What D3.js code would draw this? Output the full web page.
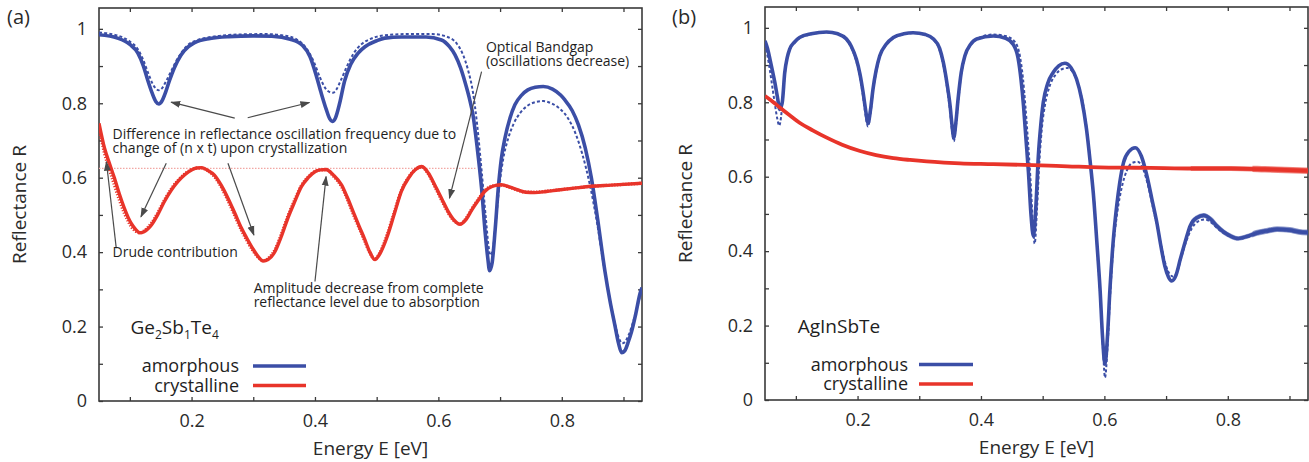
<!DOCTYPE html>
<html>
<head>
<meta charset="utf-8">
<script src="https://cdn.jsdelivr.net/npm/d3@7"></script>
<style>
  body { margin: 0; background: #fff; }
  svg { font-family: "Open Sans", sans-serif; }
</style>
</head>
<body>
<div id="container"></div>
<script>
/* DATA */
// panel (a) Ge2Sb1Te4 : [energy eV, reflectance]
const aAmorph = [[0.05,0.984],[0.08,0.975],[0.10,0.958],[0.113,0.935],[0.122,0.900],[0.129,0.862],[0.136,0.828],[0.142,0.805],[0.147,0.798],[0.152,0.806],[0.158,0.830],[0.164,0.860],[0.172,0.895],[0.183,0.930],[0.195,0.952],[0.205,0.963],[0.23,0.974],[0.26,0.979],[0.30,0.981],[0.33,0.980],[0.36,0.972],[0.38,0.955],[0.392,0.925],[0.402,0.875],[0.41,0.828],[0.418,0.785],[0.424,0.758],[0.428,0.751],[0.433,0.760],[0.44,0.800],[0.448,0.860],[0.458,0.905],[0.47,0.935],[0.481,0.952],[0.50,0.968],[0.513,0.975],[0.54,0.978],[0.58,0.978],[0.605,0.970],[0.618,0.952],[0.627,0.930],[0.636,0.895],[0.643,0.858],[0.650,0.815],[0.656,0.769],[0.663,0.680],[0.670,0.572],[0.676,0.450],[0.680,0.385],[0.683,0.350],[0.687,0.370],[0.692,0.460],[0.697,0.570],[0.702,0.650],[0.708,0.707],[0.716,0.760],[0.724,0.796],[0.735,0.822],[0.745,0.836],[0.757,0.843],[0.770,0.845],[0.785,0.838],[0.798,0.822],[0.805,0.809],[0.817,0.780],[0.827,0.742],[0.838,0.680],[0.848,0.599],[0.858,0.490],[0.870,0.348],[0.878,0.270],[0.886,0.204],[0.892,0.155],[0.897,0.130],[0.902,0.135],[0.908,0.160],[0.913,0.186],[0.920,0.235],[0.927,0.290],[0.93,0.305]]
const aAmorphFit = [[0.05,0.990],[0.08,0.982],[0.10,0.966],[0.113,0.945],[0.122,0.915],[0.130,0.880],[0.137,0.852],[0.143,0.838],[0.147,0.835],[0.152,0.840],[0.158,0.857],[0.165,0.880],[0.173,0.907],[0.183,0.935],[0.195,0.958],[0.21,0.970],[0.24,0.980],[0.28,0.985],[0.32,0.986],[0.35,0.982],[0.37,0.972],[0.385,0.950],[0.398,0.912],[0.408,0.870],[0.417,0.840],[0.424,0.830],[0.429,0.828],[0.434,0.835],[0.442,0.862],[0.452,0.900],[0.463,0.935],[0.475,0.958],[0.49,0.973],[0.51,0.982],[0.55,0.986],[0.59,0.986],[0.615,0.978],[0.63,0.960],[0.64,0.930],[0.648,0.890],[0.656,0.830],[0.663,0.740],[0.670,0.620],[0.677,0.490],[0.681,0.420],[0.684,0.392],[0.688,0.405],[0.693,0.480],[0.699,0.580],[0.705,0.650],[0.713,0.705],[0.722,0.745],[0.733,0.775],[0.745,0.794],[0.757,0.803],[0.770,0.806],[0.783,0.800],[0.797,0.785],[0.810,0.760],[0.822,0.720],[0.833,0.665],[0.845,0.585],[0.857,0.480],[0.868,0.365],[0.877,0.280],[0.885,0.215],[0.892,0.172],[0.898,0.155],[0.903,0.160],[0.909,0.180],[0.916,0.215],[0.923,0.258],[0.93,0.300]]
const aCryst = [[0.05,0.746],[0.059,0.679],[0.067,0.638],[0.075,0.599],[0.083,0.556],[0.091,0.518],[0.097,0.494],[0.102,0.478],[0.109,0.462],[0.116,0.452],[0.123,0.455],[0.129,0.462],[0.135,0.473],[0.145,0.500],[0.156,0.536],[0.167,0.566],[0.178,0.590],[0.189,0.608],[0.200,0.621],[0.208,0.626],[0.216,0.627],[0.226,0.620],[0.237,0.607],[0.248,0.580],[0.259,0.545],[0.270,0.505],[0.281,0.464],[0.290,0.436],[0.299,0.410],[0.308,0.388],[0.316,0.376],[0.324,0.380],[0.335,0.401],[0.345,0.440],[0.356,0.491],[0.367,0.535],[0.378,0.576],[0.389,0.600],[0.400,0.616],[0.409,0.621],[0.418,0.622],[0.430,0.607],[0.443,0.581],[0.453,0.545],[0.464,0.500],[0.472,0.468],[0.480,0.437],[0.489,0.400],[0.497,0.380],[0.505,0.395],[0.518,0.446],[0.529,0.505],[0.540,0.563],[0.552,0.600],[0.563,0.622],[0.573,0.630],[0.584,0.612],[0.594,0.581],[0.605,0.545],[0.616,0.509],[0.626,0.485],[0.635,0.475],[0.645,0.488],[0.654,0.513],[0.665,0.540],[0.675,0.563],[0.688,0.577],[0.702,0.581],[0.716,0.575],[0.729,0.567],[0.742,0.561],[0.756,0.560],[0.775,0.563],[0.794,0.567],[0.82,0.572],[0.848,0.577],[0.88,0.580],[0.93,0.585]]
const aCrystFit = [[0.05,0.738],[0.059,0.665],[0.067,0.622],[0.075,0.580],[0.083,0.540],[0.091,0.505],[0.097,0.484],[0.102,0.469],[0.109,0.457],[0.116,0.452],[0.123,0.457],[0.129,0.466],[0.135,0.478],[0.145,0.505],[0.156,0.540],[0.167,0.570],[0.178,0.593],[0.189,0.610],[0.200,0.622],[0.208,0.626],[0.216,0.626],[0.226,0.619],[0.237,0.603],[0.248,0.575],[0.259,0.538],[0.270,0.498],[0.281,0.458],[0.290,0.430],[0.299,0.405],[0.308,0.386],[0.316,0.377],[0.324,0.383],[0.335,0.406],[0.345,0.446],[0.356,0.497],[0.367,0.540],[0.378,0.579],[0.389,0.602],[0.400,0.617],[0.409,0.621],[0.418,0.621],[0.430,0.604],[0.443,0.576],[0.453,0.540],[0.464,0.494],[0.472,0.463],[0.480,0.432],[0.489,0.398],[0.497,0.381],[0.505,0.398],[0.518,0.452],[0.529,0.510],[0.540,0.566],[0.552,0.602],[0.563,0.623],[0.573,0.629],[0.584,0.609],[0.594,0.577],[0.605,0.540],[0.616,0.505],[0.626,0.483],[0.635,0.476],[0.645,0.491],[0.654,0.516],[0.665,0.543],[0.675,0.565],[0.688,0.578],[0.702,0.580],[0.716,0.574],[0.729,0.566],[0.742,0.561],[0.756,0.561],[0.775,0.564],[0.794,0.567],[0.82,0.572],[0.848,0.577],[0.88,0.580],[0.93,0.585]]
const aLevel = [[0.05,0.625],[0.66,0.625]]   // complete reflectance level

// panel (b) AgInSbTe
const bAmorph = [[0.05,0.965],[0.054,0.945],[0.058,0.916],[0.062,0.885],[0.066,0.853],[0.070,0.815],[0.074,0.781],[0.078,0.800],[0.082,0.880],[0.086,0.920],[0.090,0.943],[0.098,0.962],[0.106,0.974],[0.125,0.984],[0.150,0.989],[0.168,0.984],[0.182,0.970],[0.190,0.950],[0.198,0.916],[0.204,0.875],[0.209,0.826],[0.213,0.780],[0.217,0.744],[0.221,0.780],[0.225,0.835],[0.230,0.885],[0.236,0.925],[0.246,0.955],[0.258,0.974],[0.275,0.984],[0.29,0.987],[0.31,0.982],[0.323,0.970],[0.333,0.945],[0.339,0.907],[0.345,0.850],[0.350,0.790],[0.353,0.740],[0.356,0.705],[0.359,0.740],[0.363,0.810],[0.368,0.880],[0.374,0.925],[0.383,0.955],[0.393,0.970],[0.42,0.978],[0.44,0.972],[0.452,0.956],[0.46,0.920],[0.465,0.860],[0.469,0.790],[0.473,0.700],[0.477,0.611],[0.481,0.500],[0.485,0.440],[0.489,0.520],[0.493,0.656],[0.497,0.740],[0.501,0.800],[0.508,0.850],[0.517,0.880],[0.526,0.898],[0.536,0.905],[0.546,0.893],[0.555,0.862],[0.563,0.810],[0.571,0.728],[0.577,0.640],[0.582,0.557],[0.588,0.420],[0.593,0.297],[0.597,0.170],[0.601,0.096],[0.605,0.170],[0.609,0.297],[0.614,0.420],[0.620,0.522],[0.625,0.585],[0.631,0.638],[0.640,0.668],[0.650,0.678],[0.660,0.655],[0.669,0.602],[0.677,0.540],[0.685,0.477],[0.692,0.410],[0.698,0.360],[0.704,0.330],[0.709,0.320],[0.716,0.335],[0.723,0.378],[0.731,0.425],[0.739,0.468],[0.750,0.490],[0.761,0.496],[0.772,0.486],[0.782,0.468],[0.793,0.452],[0.804,0.441],[0.817,0.434],[0.832,0.440],[0.847,0.449],[0.865,0.455],[0.88,0.459],[0.90,0.457],[0.915,0.452],[0.93,0.450]]
const bAmorphFit = [[0.05,0.955],[0.054,0.925],[0.058,0.885],[0.062,0.840],[0.066,0.795],[0.070,0.755],[0.073,0.737],[0.076,0.760],[0.080,0.840],[0.084,0.900],[0.089,0.937],[0.096,0.958],[0.106,0.972],[0.125,0.983],[0.150,0.988],[0.168,0.983],[0.182,0.968],[0.190,0.946],[0.198,0.910],[0.204,0.868],[0.209,0.815],[0.213,0.765],[0.217,0.735],[0.221,0.770],[0.225,0.830],[0.230,0.880],[0.236,0.922],[0.246,0.953],[0.258,0.972],[0.275,0.983],[0.29,0.986],[0.31,0.981],[0.323,0.968],[0.333,0.940],[0.339,0.900],[0.345,0.840],[0.350,0.775],[0.353,0.725],[0.356,0.695],[0.359,0.730],[0.363,0.800],[0.368,0.875],[0.374,0.922],[0.383,0.953],[0.393,0.970],[0.42,0.982],[0.44,0.978],[0.455,0.962],[0.463,0.925],[0.468,0.865],[0.472,0.790],[0.476,0.700],[0.480,0.600],[0.484,0.480],[0.487,0.420],[0.491,0.520],[0.495,0.650],[0.499,0.735],[0.504,0.795],[0.511,0.842],[0.520,0.872],[0.530,0.888],[0.540,0.892],[0.550,0.878],[0.558,0.845],[0.566,0.790],[0.573,0.705],[0.579,0.610],[0.584,0.520],[0.589,0.390],[0.594,0.260],[0.598,0.130],[0.601,0.060],[0.605,0.140],[0.609,0.270],[0.614,0.400],[0.621,0.505],[0.628,0.570],[0.636,0.615],[0.645,0.637],[0.654,0.640],[0.663,0.620],[0.671,0.575],[0.679,0.515],[0.687,0.455],[0.694,0.400],[0.700,0.360],[0.706,0.338],[0.711,0.332],[0.718,0.345],[0.725,0.385],[0.733,0.428],[0.742,0.462],[0.752,0.480],[0.763,0.485],[0.774,0.476],[0.784,0.460],[0.795,0.447],[0.806,0.438],[0.818,0.433],[0.832,0.438],[0.847,0.447],[0.865,0.453],[0.88,0.457],[0.90,0.455],[0.915,0.451],[0.93,0.449]]
const bCryst = [[0.05,0.817],[0.06,0.805],[0.074,0.786],[0.09,0.765],[0.106,0.745],[0.128,0.724],[0.15,0.705],[0.175,0.686],[0.204,0.669],[0.23,0.658],[0.258,0.650],[0.285,0.645],[0.312,0.641],[0.34,0.638],[0.366,0.636],[0.42,0.634],[0.485,0.631],[0.54,0.628],[0.592,0.625],[0.65,0.624],[0.697,0.623],[0.75,0.622],[0.805,0.622],[0.86,0.620],[0.93,0.616]]

// ticks
const xTicks = [0.1,0.2,0.3,0.4,0.5,0.6,0.7,0.8,0.9]
const xLabels = ["0.2","0.4","0.6","0.8"]
const yTicks = [0,0.1,0.2,0.3,0.4,0.5,0.6,0.7,0.8,0.9,1]
const yLabels = ["0","0.2","0.4","0.6","0.8","1"]

// annotations panel (a): [text lines, E, R]
const aNotes = [
  [["Difference in reflectance oscillation frequency due to", "change of (n x t) upon crystallization"], 0.072, 0.703],
  [["Optical Bandgap", "(oscillations decrease)"], 0.677, 0.937],
  [["Drude contribution"], 0.072, 0.388],
  [["Amplitude decrease from complete", "reflectance level due to absorption"], 0.3006, 0.289]
]
// arrows: [fromE, fromR, toE, toR]
const aArrows = [
  [0.270,0.760, 0.167,0.803],
  [0.291,0.761, 0.391,0.802],
  [0.159,0.639, 0.118,0.495],
  [0.259,0.639, 0.301,0.446],
  [0.078,0.410, 0.062,0.643],
  [0.400,0.321, 0.418,0.603],
  [0.670,0.885, 0.618,0.545]
]

/* CONSTANTS */
const width = 1309, height = 462
const blue = "#3b4ea6", red = "#e8342a", axisColor = "#3a3a3a"
const pw = 543, ph = 393

const svg = d3.select("#container").append("svg")
  .attr("width", width).attr("height", height)

const defs = svg.append("defs")
defs.append("marker")
  .attr("id", "head")
  .attr("viewBox", "0 0 10 10")
  .attr("refX", 9).attr("refY", 5)
  .attr("markerWidth", 10).attr("markerHeight", 10)
  .attr("markerUnits", "userSpaceOnUse")
  .attr("orient", "auto")
  .append("path")
  .attr("d", "M0,1.5 L10,5 L0,8.5 Z")
  .attr("fill", "#4a4a4a")

function drawPanel(left, top, letter, letterX) {
  const g = svg.append("g").attr("transform", `translate(${left},${top})`)

  const x = d3.scaleLinear().domain([0.05, 0.93]).range([0, pw])
  const y = d3.scaleLinear().domain([0, 1.056]).range([ph, 0])

  // axes
  const fmt = d => d3.format("~g")(d)
  g.append("g").attr("transform", `translate(0,${ph})`)
    .call(d3.axisBottom(x).tickValues(xTicks).tickSize(-4).tickPadding(13)
      .tickFormat(d => xLabels.includes(fmt(d)) ? fmt(d) : ""))
  g.append("g")
    .call(d3.axisLeft(y).tickValues(yTicks).tickSize(-4).tickPadding(12)
      .tickFormat(d => yLabels.includes(fmt(d)) ? fmt(d) : ""))
  g.append("g").call(d3.axisTop(x).tickValues(xTicks).tickSize(-4).tickFormat(""))
  g.append("g").attr("transform", `translate(${pw},0)`)
    .call(d3.axisRight(y).tickValues(yTicks).tickSize(-4).tickFormat(""))
  g.selectAll(".domain").remove()
  g.selectAll(".tick line").attr("stroke", axisColor).attr("stroke-width", 1.3)
  g.selectAll(".tick text").attr("fill", "#2a2a2a").style("font-size", "18px")
    .style("font-family", "'Open Sans', sans-serif")

  g.append("rect").attr("width", pw).attr("height", ph)
    .attr("fill", "none").attr("stroke", axisColor).attr("stroke-width", 1.6)

  // axis titles
  g.append("text")
    .attr("x", pw / 2).attr("y", ph + 54)
    .attr("text-anchor", "middle")
    .style("font-size", "19px").attr("fill", "#2a2a2a")
    .text("Energy E [eV]")
  g.append("text")
    .attr("transform", `translate(${-73},${ph / 2}) rotate(-90)`)
    .attr("text-anchor", "middle")
    .style("font-size", "19px").attr("fill", "#2a2a2a")
    .text("Reflectance R")

  svg.append("text")
    .attr("x", letterX).attr("y", 24)
    .style("font-size", "20px").attr("fill", "#2a2a2a")
    .text(letter)

  const clipId = "clip" + letter.replace(/\W/g, "")
  defs.append("clipPath").attr("id", clipId)
    .append("rect").attr("width", pw).attr("height", ph)

  const plot = g.append("g").attr("clip-path", `url(#${clipId})`)
  const line = d3.line().x(d => x(d[0])).y(d => y(d[1])).curve(d3.curveMonotoneX)

  return { g, plot, x, y, line }
}

/* PANEL (a) */
const A = drawPanel(99, 8, "(a)", 7)

A.plot.append("path").datum(aLevel)
  .attr("d", A.line).attr("fill", "none")
  .attr("stroke", "#f2a7a4").attr("stroke-width", 1.2).attr("stroke-dasharray", "1.5,1.5")

A.plot.append("path").datum(aAmorph)
  .attr("d", A.line).attr("fill", "none")
  .attr("stroke", blue).attr("stroke-width", 3.6)
A.plot.append("path").datum(aAmorphFit)
  .attr("d", A.line).attr("fill", "none")
  .attr("stroke", blue).attr("stroke-width", 2).attr("stroke-dasharray", "3,2.2")
A.plot.append("path").datum(aCrystFit)
  .attr("d", A.line).attr("fill", "none")
  .attr("stroke", red).attr("stroke-width", 3.2).attr("stroke-dasharray", "1.2,1.6")
A.plot.append("path").datum(aCryst)
  .attr("d", A.line).attr("fill", "none")
  .attr("stroke", red).attr("stroke-width", 3.4)

// arrows
A.g.selectAll(".arrow")
  .data(aArrows)
  .join("line")
  .attr("x1", d => A.x(d[0])).attr("y1", d => A.y(d[1]))
  .attr("x2", d => A.x(d[2])).attr("y2", d => A.y(d[3]))
  .attr("stroke", "#4a4a4a").attr("stroke-width", 1.2)
  .attr("marker-end", "url(#head)")

// notes
aNotes.forEach(n => {
  const t = A.g.append("text")
    .attr("x", A.x(n[1])).attr("y", A.y(n[2]))
    .style("font-size", "14px").attr("fill", "#1e1e1e")
  n[0].forEach((s, i) => {
    t.append("tspan").attr("x", A.x(n[1])).attr("dy", i === 0 ? 0 : 13.5).text(s)
  })
})

// sample name with subscripts
const gst = A.g.append("text")
  .attr("x", A.x(0.101)).attr("y", A.y(0.18))
  .style("font-size", "19px").attr("fill", "#1e1e1e")
gst.append("tspan").text("Ge")
gst.append("tspan").attr("dy", 5).style("font-size", "12px").text("2")
gst.append("tspan").attr("dy", -5).text("Sb")
gst.append("tspan").attr("dy", 5).style("font-size", "12px").text("1")
gst.append("tspan").attr("dy", -5).text("Te")
gst.append("tspan").attr("dy", 5).style("font-size", "12px").text("4")

/* PANEL (b) */
const B = drawPanel(765, 7, "(b)", 672)

// noisy tails drawn as slightly wider bands
const tails = [[0.74, 4.6], [0.84, 5.8]]
tails.forEach((t, i) => {
  defs.append("clipPath").attr("id", "tail" + i)
    .append("rect").attr("x", B.x(t[0])).attr("width", pw).attr("height", ph)
})

B.plot.append("path").datum(bAmorph)
  .attr("d", B.line).attr("fill", "none")
  .attr("stroke", blue).attr("stroke-width", 3.6)
tails.forEach((t, i) => {
  B.plot.append("path").datum(bAmorph)
    .attr("d", B.line).attr("fill", "none").attr("clip-path", `url(#tail${i})`)
    .attr("stroke", blue).attr("stroke-width", t[1]).attr("stroke-opacity", 0.55)
})
B.plot.append("path").datum(bAmorphFit)
  .attr("d", B.line).attr("fill", "none")
  .attr("stroke", blue).attr("stroke-width", 2).attr("stroke-dasharray", "3,2.2")
B.plot.append("path").datum(bCryst)
  .attr("d", B.line).attr("fill", "none")
  .attr("stroke", red).attr("stroke-width", 3.8)
tails.forEach((t, i) => {
  B.plot.append("path").datum(bCryst)
    .attr("d", B.line).attr("fill", "none").attr("clip-path", `url(#tail${i})`)
    .attr("stroke", red).attr("stroke-width", t[1] + 0.6).attr("stroke-opacity", 0.55)
})

B.g.append("text")
  .attr("x", B.x(0.103)).attr("y", B.y(0.181))
  .style("font-size", "19px").attr("fill", "#1e1e1e")
  .text("AgInSbTe")

/* LEGENDS */
function legend(P, textRight, lineX1, lineX2, rows) {
  rows.forEach(r => {
    P.g.append("text")
      .attr("x", textRight).attr("y", r.y + 6)
      .attr("text-anchor", "end")
      .style("font-size", "18px").attr("fill", "#1e1e1e")
      .text(r.label)
    P.g.append("line")
      .attr("x1", lineX1).attr("x2", lineX2)
      .attr("y1", r.y).attr("y2", r.y)
      .attr("stroke", r.color).attr("stroke-width", 3.6)
  })
}
legend(A, 140, 154, 207, [
  { label: "amorphous", color: blue, y: 358 },
  { label: "crystalline", color: red, y: 377.5 }
])
legend(B, 143, 154, 208, [
  { label: "amorphous", color: blue, y: 357.5 },
  { label: "crystalline", color: red, y: 377 }
])
</script>
</body>
</html>
